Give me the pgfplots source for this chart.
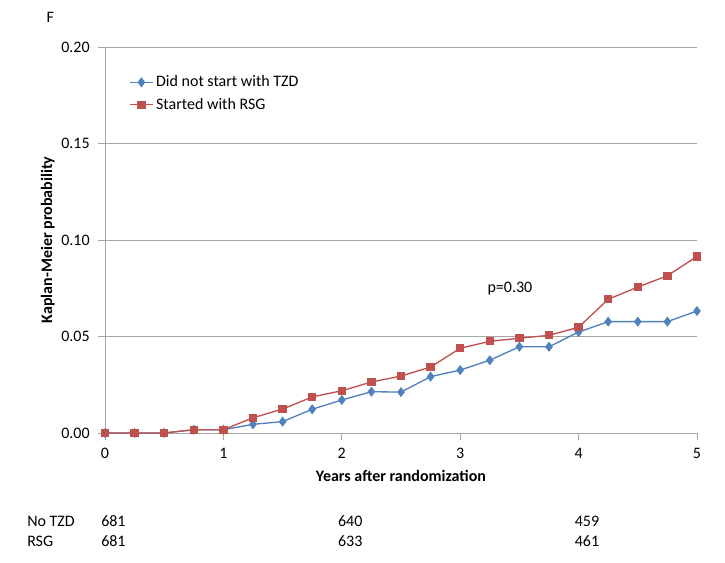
\documentclass[border=0pt]{standalone}
\usepackage{pgfplots}
\pgfplotsset{compat=1.18}
\usepackage{fontspec}
\setmainfont{Carlito}
\definecolor{ser1}{HTML}{4F81BD}
\definecolor{ser2}{HTML}{C0504D}
\definecolor{axg}{HTML}{A6A6A6}
\begin{document}
\begin{tikzpicture}[font=\fontsize{12}{14}\selectfont]
\useasboundingbox (-78.75pt,-96.75pt) rectangle (465pt,324.75pt);
\begin{axis}[
  at={(0,0)}, anchor=south west,
  scale only axis, width=444pt, height=289.5pt,
  xmin=0, xmax=5, ymin=0, ymax=0.2,
  axis lines=left,
  axis line style={-, draw=axg, line width=0.6pt},
  xtick={0,1,2,3,4,5},
  ytick={0,0.05,0.1,0.15,0.2},
  yticklabel style={xshift=-3pt, /pgf/number format/.cd, fixed, fixed zerofill, precision=2},
  /pgf/number format/assume math mode=true,
  tick align=outside, major tick length=5pt,
  tick style={draw=axg, line width=0.6pt},
  xticklabel style={yshift=-3pt},
  ymajorgrids, grid style={draw=axg, line width=0.6pt},
  clip=false,
  legend style={draw=none, fill=none, at={(0.034,0.94)}, anchor=north west,
    font=\fontsize{12}{14}\selectfont, row sep=3pt,
    /tikz/every even column/.style={column sep=1pt}},
  legend cell align=left,
]
\addplot[color=ser1, line width=1pt, mark=diamond*, mark size=3pt, mark options={fill=ser1}]
coordinates {(0,0) (0.25,0) (0.5,0) (0.75,0.0017) (1,0.0017) (1.25,0.0045) (1.5,0.0059) (1.75,0.0123) (2,0.0171) (2.25,0.0214) (2.5,0.0212) (2.75,0.0292) (3,0.0326) (3.25,0.0377) (3.5,0.0447) (3.75,0.0447) (4,0.0523) (4.25,0.0577) (4.5,0.0577) (4.75,0.0577) (5,0.0632)};
\addlegendentry{Did not start with TZD}
\addplot[color=ser2, line width=1pt, mark=square*, mark size=2.6pt, mark options={fill=ser2}]
coordinates {(0,0) (0.25,0) (0.5,0) (0.75,0.0017) (1,0.0017) (1.25,0.0079) (1.5,0.0124) (1.75,0.0187) (2,0.0219) (2.25,0.0264) (2.5,0.0295) (2.75,0.0342) (3,0.0439) (3.25,0.0475) (3.5,0.0491) (3.75,0.0506) (4,0.0548) (4.25,0.0693) (4.5,0.0756) (4.75,0.0815) (5,0.0915)};
\addlegendentry{Started with RSG}
\node at (axis cs:3.42,0.0746) {p=0.30};
\end{axis}
\node at (-41pt,312pt) {F};
\node[rotate=90, font=\fontsize{12}{14}\selectfont\bfseries] at (-43pt,144.75pt) {Kaplan-Meier probability};
\node[font=\fontsize{12}{14}\selectfont\bfseries] at (222pt,-32pt) {Years after randomization};
\node[anchor=west, inner sep=0pt] at (-58.5pt,-66pt) {No TZD};
\node[anchor=west, inner sep=0pt] at (-58.5pt,-81pt) {RSG};
\node[anchor=west, inner sep=0pt] at (-3pt,-66pt) {681};
\node[anchor=west, inner sep=0pt] at (-3pt,-81pt) {681};
\node[anchor=west, inner sep=0pt] at (174.6pt,-66pt) {640};
\node[anchor=west, inner sep=0pt] at (174.6pt,-81pt) {633};
\node[anchor=west, inner sep=0pt] at (352.2pt,-66pt) {459};
\node[anchor=west, inner sep=0pt] at (352.2pt,-81pt) {461};
\end{tikzpicture}
\end{document}
